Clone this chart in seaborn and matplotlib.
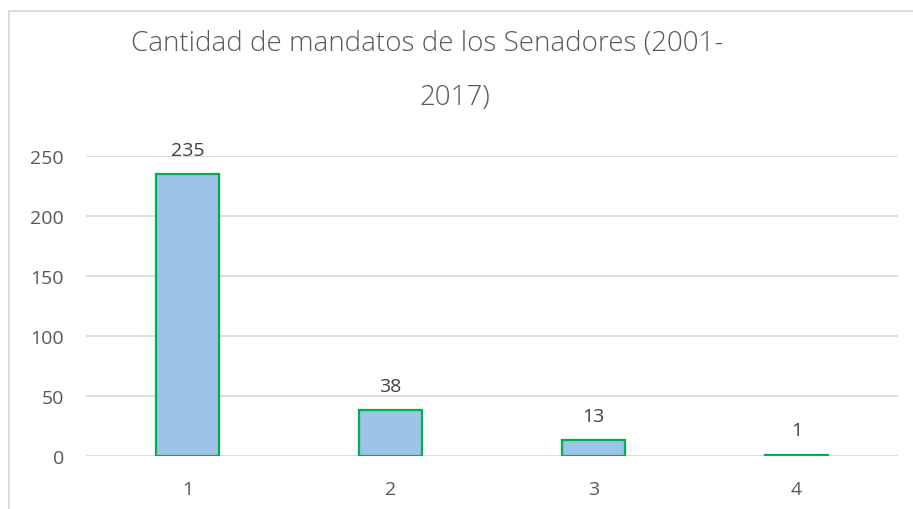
import pandas as pd
import numpy as np
import matplotlib.pyplot as plt
import seaborn as sns
from matplotlib.patches import Rectangle

# Datos del grafico
mandatos = ['1', '2', '3', '4']
senadores = [235, 38, 13, 1]
titulo_1 = 'Cantidad de mandatos de los Senadores (2001-'
titulo_2 = '2017)'

df = pd.DataFrame({'Mandatos': mandatos, 'Senadores': senadores})

sns.set_style('white')
plt.rcParams['font.family'] = ['Open Sans', 'DejaVu Sans']

fig = plt.figure(figsize=(9.13, 5.10), dpi=100)
ax = fig.add_axes([0.0942, 0.104, 0.8894, 0.588])

sns.barplot(x='Mandatos', y='Senadores', data=df, color='#9DC3E6',
            edgecolor='#00B050', linewidth=1.6, width=0.315, saturation=1, ax=ax)

ax.set_ylim(0, 250)
ax.set_xlim(-0.5, 3.5)
ax.set_yticks(np.arange(0, 251, 50))
ax.yaxis.grid(True, color='#D9D9D9', linewidth=1.3)
ax.set_axisbelow(True)
for s in ax.spines.values():
    s.set_visible(False)
ax.tick_params(axis='both', length=0, labelsize=14, labelcolor='#595959')
ax.tick_params(axis='x', pad=17)
ax.tick_params(axis='y', pad=16)
ax.set_xlabel('')
ax.set_ylabel('')

# Etiquetas de datos
for i, v in enumerate(senadores):
    ax.annotate(str(v), (i, v), xytext=(0, 11), textcoords='offset points',
                ha='center', va='bottom', fontsize=14, color='#404040')

# Titulo en dos lineas (como lo parte Excel)
fig.text(427 / 913, 1 - 44 / 510, titulo_1, ha='center', va='center',
         fontsize=20, color='#595959', fontweight='light')
fig.text(455 / 913, 1 - 98 / 510, titulo_2, ha='center', va='center',
         fontsize=20, color='#595959', fontweight='light')

# Borde del area del grafico
fig.patches.append(Rectangle((9 / 913, -0.2), 1.2, 1.2 - 12 / 510,
                             transform=fig.transFigure, fill=False,
                             edgecolor='#D9D9D9', linewidth=1.3))

fig.savefig('out.png', dpi=100)
